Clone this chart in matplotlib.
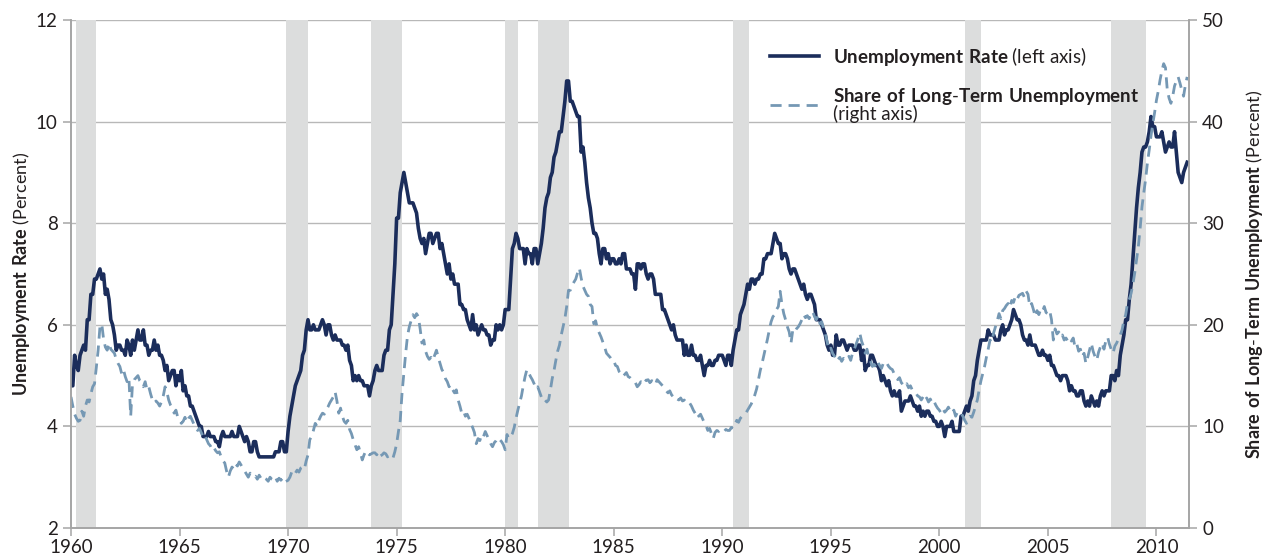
import numpy as np
import matplotlib
matplotlib.use('Agg')
import matplotlib.pyplot as plt

# monthly values, Jan 1960 .. Jun 2011 (one row per year)
unemp_rate = [
    4.8, 4.8, 5.4, 5.2, 5.1, 5.4, 5.5, 5.6, 5.5, 6.1, 6.1, 6.6,   # 1960
    6.6, 6.9, 6.9, 7.0, 7.1, 6.9, 7.0, 6.6, 6.7, 6.5, 6.1, 6.0,
    5.8, 5.5, 5.6, 5.6, 5.5, 5.5, 5.4, 5.7, 5.6, 5.4, 5.7, 5.5,
    5.7, 5.9, 5.7, 5.7, 5.9, 5.6, 5.6, 5.4, 5.5, 5.5, 5.7, 5.5,
    5.6, 5.4, 5.4, 5.3, 5.1, 5.2, 4.9, 5.0, 5.1, 5.1, 4.8, 5.0,
    4.9, 5.1, 4.7, 4.8, 4.6, 4.6, 4.4, 4.4, 4.3, 4.2, 4.1, 4.0,   # 1965
    4.0, 3.8, 3.8, 3.8, 3.9, 3.8, 3.8, 3.8, 3.7, 3.7, 3.6, 3.8,
    3.9, 3.8, 3.8, 3.8, 3.8, 3.9, 3.8, 3.8, 3.8, 4.0, 3.9, 3.8,
    3.7, 3.8, 3.7, 3.5, 3.5, 3.7, 3.7, 3.5, 3.4, 3.4, 3.4, 3.4,
    3.4, 3.4, 3.4, 3.4, 3.4, 3.5, 3.5, 3.5, 3.7, 3.7, 3.5, 3.5,
    3.9, 4.2, 4.4, 4.6, 4.8, 4.9, 5.0, 5.1, 5.4, 5.5, 5.9, 6.1,   # 1970
    5.9, 5.9, 6.0, 5.9, 5.9, 5.9, 6.0, 6.1, 6.0, 5.8, 6.0, 6.0,
    5.8, 5.7, 5.8, 5.7, 5.7, 5.7, 5.6, 5.6, 5.5, 5.6, 5.3, 5.2,
    4.9, 5.0, 4.9, 5.0, 4.9, 4.9, 4.8, 4.8, 4.8, 4.6, 4.8, 4.9,
    5.1, 5.2, 5.1, 5.1, 5.1, 5.4, 5.5, 5.5, 5.9, 6.0, 6.6, 7.2,
    8.1, 8.1, 8.6, 8.8, 9.0, 8.8, 8.6, 8.4, 8.4, 8.4, 8.3, 8.2,   # 1975
    7.9, 7.7, 7.6, 7.7, 7.4, 7.6, 7.8, 7.8, 7.6, 7.7, 7.8, 7.8,
    7.5, 7.6, 7.4, 7.2, 7.0, 7.2, 6.9, 7.0, 6.8, 6.8, 6.8, 6.4,
    6.4, 6.3, 6.3, 6.1, 6.0, 5.9, 6.2, 5.9, 6.0, 5.8, 5.9, 6.0,
    5.9, 5.9, 5.8, 5.8, 5.6, 5.7, 5.7, 6.0, 5.9, 6.0, 5.9, 6.0,
    6.3, 6.3, 6.3, 6.9, 7.5, 7.6, 7.8, 7.7, 7.5, 7.5, 7.5, 7.2,   # 1980
    7.5, 7.4, 7.4, 7.2, 7.5, 7.5, 7.2, 7.4, 7.6, 7.9, 8.3, 8.5,
    8.6, 8.9, 9.0, 9.3, 9.4, 9.6, 9.8, 9.8, 10.1, 10.4, 10.8, 10.8,
    10.4, 10.4, 10.3, 10.2, 10.1, 10.1, 9.4, 9.5, 9.2, 8.8, 8.5, 8.3,
    8.0, 7.8, 7.8, 7.7, 7.4, 7.2, 7.5, 7.5, 7.3, 7.4, 7.2, 7.3,
    7.3, 7.2, 7.2, 7.3, 7.2, 7.4, 7.4, 7.1, 7.1, 7.1, 7.0, 7.0,   # 1985
    6.7, 7.2, 7.2, 7.1, 7.2, 7.2, 7.0, 6.9, 7.0, 7.0, 6.9, 6.6,
    6.6, 6.6, 6.6, 6.3, 6.3, 6.2, 6.1, 6.0, 5.9, 6.0, 5.8, 5.7,
    5.7, 5.7, 5.7, 5.4, 5.6, 5.4, 5.4, 5.6, 5.4, 5.4, 5.3, 5.3,
    5.4, 5.2, 5.0, 5.2, 5.2, 5.3, 5.2, 5.2, 5.3, 5.3, 5.4, 5.4,
    5.4, 5.3, 5.2, 5.4, 5.4, 5.2, 5.5, 5.7, 5.9, 5.9, 6.2, 6.3,   # 1990
    6.4, 6.6, 6.8, 6.7, 6.9, 6.9, 6.8, 6.9, 6.9, 7.0, 7.0, 7.3,
    7.3, 7.4, 7.4, 7.4, 7.6, 7.8, 7.7, 7.6, 7.6, 7.3, 7.4, 7.4,
    7.3, 7.1, 7.0, 7.1, 7.1, 7.0, 6.9, 6.8, 6.7, 6.8, 6.6, 6.5,
    6.6, 6.6, 6.5, 6.4, 6.1, 6.1, 6.1, 6.0, 5.9, 5.8, 5.6, 5.5,
    5.6, 5.4, 5.4, 5.8, 5.6, 5.6, 5.7, 5.7, 5.6, 5.5, 5.6, 5.6,   # 1995
    5.6, 5.5, 5.5, 5.6, 5.6, 5.3, 5.5, 5.1, 5.2, 5.2, 5.4, 5.4,
    5.3, 5.2, 5.2, 5.1, 4.9, 5.0, 4.9, 4.8, 4.9, 4.7, 4.6, 4.7,
    4.6, 4.6, 4.7, 4.3, 4.4, 4.5, 4.5, 4.5, 4.6, 4.5, 4.4, 4.4,
    4.3, 4.4, 4.2, 4.3, 4.2, 4.3, 4.3, 4.2, 4.2, 4.1, 4.1, 4.0,
    4.0, 4.1, 4.0, 3.8, 4.0, 4.0, 4.0, 4.1, 3.9, 3.9, 3.9, 3.9,   # 2000
    4.2, 4.2, 4.3, 4.4, 4.3, 4.5, 4.6, 4.9, 5.0, 5.3, 5.5, 5.7,
    5.7, 5.7, 5.7, 5.9, 5.8, 5.8, 5.8, 5.7, 5.7, 5.7, 5.9, 6.0,
    5.8, 5.9, 5.9, 6.0, 6.1, 6.3, 6.2, 6.1, 6.1, 6.0, 5.8, 5.7,
    5.7, 5.6, 5.8, 5.6, 5.6, 5.6, 5.5, 5.4, 5.4, 5.5, 5.4, 5.4,
    5.3, 5.4, 5.2, 5.2, 5.1, 5.0, 5.0, 4.9, 5.0, 5.0, 5.0, 4.9,   # 2005
    4.7, 4.8, 4.7, 4.7, 4.6, 4.6, 4.7, 4.7, 4.5, 4.4, 4.5, 4.4,
    4.6, 4.5, 4.4, 4.5, 4.4, 4.6, 4.7, 4.6, 4.7, 4.7, 4.7, 5.0,
    5.0, 4.9, 5.1, 5.0, 5.4, 5.6, 5.8, 6.1, 6.1, 6.5, 6.8, 7.3,
    7.8, 8.3, 8.7, 9.0, 9.4, 9.5, 9.5, 9.6, 9.8, 10.1, 9.9, 9.9,
    9.7, 9.7, 9.7, 9.8, 9.6, 9.4, 9.5, 9.6, 9.5, 9.5, 9.8, 9.4,   # 2010
    9.0, 8.9, 8.8, 9.0, 9.1, 9.2,
]

longterm_share = [
    12.9, 12.0, 11.2, 10.8, 10.5, 10.6, 11.5, 11.0, 12.0, 12.6, 12.4, 13.2,   # 1960
    13.9, 14.2, 15.8, 17.5, 19.8, 20.1, 18.6, 17.8, 17.5, 18.2, 17.6, 17.4,
    17.2, 16.6, 16.2, 15.9, 15.2, 15.6, 14.9, 14.4, 14.8, 11.0, 14.2, 14.6,
    14.8, 15.0, 14.5, 14.3, 13.9, 14.4, 13.6, 13.9, 13.2, 12.6, 12.3, 12.5,
    12.3, 12.0, 12.4, 13.0, 13.9, 13.4, 12.6, 12.1, 11.8, 11.3, 11.6, 10.9,
    10.6, 10.3, 10.5, 10.9, 10.4, 10.8, 11.0, 10.6, 10.2, 9.9, 9.6, 9.8,      # 1965
    9.4, 9.0, 9.2, 8.7, 8.3, 8.1, 7.7, 7.9, 7.6, 7.4, 7.5, 7.0,
    6.6, 6.4, 5.6, 5.0, 5.6, 6.0, 5.8, 6.3, 6.1, 6.5, 6.2, 5.9,
    5.6, 5.3, 5.0, 5.4, 5.2, 5.0, 5.1, 4.8, 5.2, 4.9, 4.7, 4.9,
    4.8, 4.6, 5.0, 4.8, 4.7, 5.0, 4.6, 4.9, 4.7, 4.9, 4.5, 4.6,
    4.7, 5.0, 5.5, 5.2, 5.4, 5.7, 5.5, 5.9, 6.0, 5.8, 6.6, 7.2,              # 1970
    8.7, 9.0, 9.6, 10.3, 10.0, 10.6, 11.0, 11.3, 11.2, 11.6, 11.9, 12.3,
    12.6, 12.9, 13.4, 12.5, 11.3, 11.8, 11.0, 10.5, 10.3, 10.6, 9.7, 9.3,
    8.7, 8.2, 7.7, 8.0, 7.4, 6.7, 7.2, 7.6, 7.4, 7.2, 7.3, 7.4,
    7.4, 7.2, 7.5, 7.1, 7.2, 7.4, 7.3, 7.0, 7.2, 7.0, 6.9, 7.5,
    8.3, 9.5, 10.6, 13.3, 15.3, 17.2, 18.9, 19.8, 20.4, 21.0, 20.7, 21.1,    # 1975
    20.8, 19.6, 18.2, 18.5, 17.4, 16.9, 16.6, 16.8, 16.5, 17.0, 17.5, 16.8,
    16.2, 15.6, 15.3, 14.7, 14.4, 13.9, 14.1, 13.6, 13.3, 13.6, 12.6, 12.0,
    11.3, 11.5, 11.0, 11.2, 10.8, 10.3, 9.9, 9.4, 8.3, 8.8, 8.6, 9.2,
    9.0, 9.5, 9.1, 8.7, 8.3, 8.0, 8.4, 8.6, 8.9, 8.7, 8.5, 8.2,
    7.7, 9.2, 8.8, 9.0, 9.3, 9.9, 10.8, 11.6, 12.3, 13.0, 14.0, 14.9,        # 1980
    15.6, 15.3, 14.9, 14.6, 14.2, 13.7, 13.9, 13.4, 12.9, 13.0, 12.6, 12.4,
    12.6, 13.6, 14.7, 15.5, 16.5, 17.4, 18.0, 19.0, 19.8, 20.6, 21.8, 23.4,
    23.4, 23.9, 24.2, 24.5, 25.1, 25.6, 24.6, 23.8, 23.4, 23.0, 22.8, 22.0,
    21.8, 20.1, 20.4, 19.6, 19.2, 18.8, 18.3, 17.8, 17.2, 17.0, 16.8, 16.5,
    16.5, 16.0, 15.9, 15.4, 15.2, 14.9, 15.1, 15.3, 14.9, 14.8, 14.6, 14.4,  # 1985
    14.3, 13.9, 14.1, 14.4, 14.3, 14.7, 14.5, 14.6, 14.3, 14.5, 14.4, 14.1,
    14.6, 14.4, 14.2, 14.0, 13.8, 13.5, 13.3, 13.5, 13.1, 12.9, 13.0, 12.7,
    12.6, 12.8, 12.5, 12.6, 12.3, 12.4, 12.3, 12.0, 11.6, 11.3, 11.5, 11.0,
    11.2, 10.8, 10.4, 10.1, 9.6, 9.8, 9.3, 8.8, 9.4, 9.6, 9.5, 9.7,
    9.6, 9.5, 9.7, 9.6, 9.6, 9.9, 9.8, 10.2, 10.6, 10.4, 10.8, 11.0,         # 1990
    11.1, 11.3, 11.6, 11.9, 12.2, 12.6, 13.1, 13.7, 14.6, 15.5, 16.2, 17.0,
    17.8, 18.6, 19.5, 20.3, 20.8, 21.0, 21.5, 21.8, 23.3, 22.0, 21.1, 20.5,
    19.8, 19.3, 18.2, 19.5, 19.3, 19.6, 19.8, 20.1, 20.5, 21.0, 20.7, 20.9,
    20.6, 21.0, 21.3, 20.8, 20.5, 20.9, 20.1, 20.3, 19.6, 19.1, 18.3, 17.5,
    17.7, 17.2, 16.9, 17.1, 16.6, 16.8, 16.4, 16.7, 16.5, 16.6, 16.9, 16.5,  # 1995
    17.2, 17.6, 18.1, 18.6, 19.2, 18.4, 17.9, 17.2, 17.6, 16.8, 16.4, 15.9,
    16.1, 15.8, 16.3, 16.0, 15.7, 16.2, 16.0, 16.2, 15.9, 15.7, 15.6, 15.2,
    14.9, 14.6, 14.8, 14.3, 14.1, 13.9, 14.2, 13.8, 14.0, 13.6, 13.4, 13.3,
    13.0, 12.9, 12.6, 12.9, 12.5, 12.8, 12.4, 12.7, 12.3, 12.5, 12.1, 11.8,
    11.6, 11.3, 11.7, 11.4, 11.6, 11.9, 11.5, 11.3, 11.6, 11.0, 11.4, 11.2,  # 2000
    11.3, 11.0, 10.6, 10.3, 10.8, 11.0, 10.9, 11.4, 12.0, 12.6, 13.6, 14.5,
    15.2, 15.9, 16.8, 17.6, 18.5, 18.3, 19.2, 19.8, 20.4, 21.1, 20.6, 21.4,
    21.6, 21.9, 22.1, 21.7, 22.4, 22.2, 22.8, 22.5, 22.9, 23.0, 23.1, 22.7,
    23.3, 23.0, 21.8, 22.1, 21.5, 20.8, 21.4, 21.0, 21.5, 21.3, 21.8, 21.2,
    21.1, 21.4, 20.5, 18.5, 19.6, 19.1, 19.3, 18.8, 19.0, 18.5, 18.7, 18.4,  # 2005
    18.7, 18.4, 18.7, 17.8, 18.1, 17.4, 17.6, 16.9, 17.2, 16.2, 16.8, 17.5,
    18.2, 17.4, 16.9, 16.5, 17.3, 17.8, 18.2, 17.6, 18.4, 18.8, 18.1, 17.6,
    17.2, 17.9, 18.2, 18.6, 19.0, 19.5, 20.4, 21.0, 22.1, 22.5, 23.1, 24.0,
    25.1, 26.4, 27.7, 29.5, 31.6, 33.0, 34.3, 35.9, 37.2, 38.6, 39.8, 40.9,
    42.1, 43.0, 44.1, 45.0, 45.7, 45.3, 43.1, 42.3, 41.8, 42.5, 43.5, 44.0,  # 2010
    44.4, 43.8, 43.1, 42.5, 43.6, 44.4,
]

# NBER recessions (start, end) as fractional years
recession_start = [1960.25, 1969.92, 1973.83, 1980.0, 1981.5, 1990.5, 2001.17, 2007.92]
recession_end = [1961.17, 1970.92, 1975.25, 1980.58, 1982.92, 1991.25, 2001.92, 2009.5]

year_ticks = [1960, 1965, 1970, 1975, 1980, 1985, 1990, 1995, 2000, 2005, 2010]
left_ticks = [2, 4, 6, 8, 10, 12]
right_ticks = [0, 10, 20, 30, 40, 50]

NAVY = '#1b2d5b'
STEEL = '#7598b4'
BAND = '#dcdddd'
GRID = '#b8b8b8'
SPINE = '#a5a5a5'
TXT = '#231f20'

plt.rcParams['font.family'] = ['Lato', 'DejaVu Sans']
plt.rcParams['mathtext.fontset'] = 'custom'
plt.rcParams['mathtext.rm'] = 'Lato'
plt.rcParams['mathtext.bf'] = 'Lato:bold'

months = 1960 + np.arange(len(unemp_rate)) / 12.0

fig = plt.figure(figsize=(12.71, 5.59), dpi=100)
ax = fig.add_axes([71 / 1271, 31 / 559, 1118 / 1271, 508 / 559])
ax2 = ax.twinx()

for s, e in zip(recession_start, recession_end):
    ax.axvspan(s, e, color=BAND, lw=0, zorder=1)

ax.plot(months, unemp_rate, color=NAVY, lw=2.6, zorder=3,
        label=r'$\bf{Unemployment\ Rate}$ (left axis)')
ax2.plot(months, longterm_share, color=STEEL, lw=2.0, dashes=(4, 2.5),
         label='$\\bf{Share\\ of\\ Long}$-$\\bf{Term\\ Unemployment}$\n(right axis)')

ax.set_xlim(1960, 2011.5)
ax.set_ylim(2, 12)
ax2.set_ylim(0, 50)
ax.set_xticks(year_ticks)
ax.set_yticks(left_ticks)
ax2.set_yticks(right_ticks)

ax.set_axisbelow(True)
ax.yaxis.grid(True, color=GRID, lw=1.0)

for a in (ax, ax2):
    a.spines['top'].set_visible(False)
    for sp in ('left', 'right', 'bottom'):
        a.spines[sp].set_color(SPINE)
        a.spines[sp].set_linewidth(1.2)
    a.tick_params(colors=SPINE, labelcolor=TXT, labelsize=13.5, length=6, width=1.1)

ax.tick_params(axis='x', pad=2)
ax.set_ylabel(r'$\bf{Unemployment\ Rate}$ (Percent)', fontsize=13, color=TXT, labelpad=3)
ax2.set_ylabel('$\\bf{Share\\ of\\ Long}$-$\\bf{Term\\ Unemployment}$ (Percent)',
               fontsize=13, color=TXT, labelpad=14)

h1, l1 = ax.get_legend_handles_labels()
h2, l2 = ax2.get_legend_handles_labels()
leg = ax2.legend(h1 + h2, l1 + l2, loc='upper left', bbox_to_anchor=(0.625, 0.951),
                 frameon=False, fontsize=13.5, handlelength=2.6, handletextpad=0.75,
                 labelspacing=0.95, borderpad=0, borderaxespad=0)
for t in leg.get_texts():
    t.set_color(TXT)
    t.set_linespacing(0.9)

fig.savefig('out.png', dpi=100)
